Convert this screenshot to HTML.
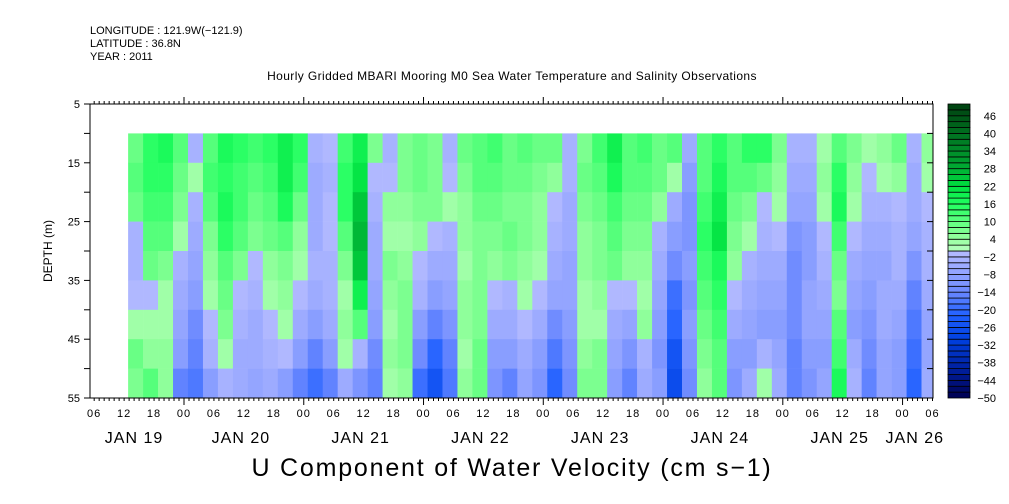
<!DOCTYPE html>
<html><head><meta charset="utf-8">
<style>
html,body{margin:0;padding:0;background:#fff;}
svg{display:block;font-family:"Liberation Sans",sans-serif;}
</style></head>
<body>
<svg id="chart" width="1009" height="504" viewBox="0 0 1009 504" xmlns="http://www.w3.org/2000/svg">
<text x="90" y="34" font-size="11">LONGITUDE : 121.9W(−121.9)</text>
<text x="90" y="47" font-size="11">LATITUDE : 36.8N</text>
<text x="90" y="60" font-size="11">YEAR : 2011</text>
<text x="512" y="80" font-size="12" text-anchor="middle" letter-spacing="0.4">Hourly Gridded MBARI Mooring M0 Sea Water Temperature and Salinity Observations</text>
<text x="512" y="476" font-size="25" text-anchor="middle" letter-spacing="1.8">U Component of Water Velocity (cm s−1)</text>
<text x="52" y="251" font-size="12" text-anchor="middle" transform="rotate(-90 52 251)">DEPTH (m)</text>
<g id="cells"></g>
<g id="axes"></g>
<g id="cbar"></g>
</svg>
<script>
// depth bands (top depth of each 5 m band)
const depthBands = [10,15,20,25,30,35,40,45,50];
// column start times, hours after Jan 19 00:00 (3-hour columns)
const startHour = 12.8;
const colHours = 3;
// U velocity (cm/s), one array per 3-h column, top to bottom
const velocity = [
[8,10,8,-4,-4,-2,2,8,6],[14,14,12,10,8,-2,2,4,10],[16,14,12,10,6,2,2,4,4],[10,8,6,2,-4,-6,-8,-10,-16],
[-4,2,-4,-6,-8,-10,-14,-16,-18],[10,12,10,6,4,2,-2,-4,-10],[16,14,16,14,10,8,6,2,-4],[14,12,12,10,6,-2,-4,-6,-6],
[12,10,8,6,-2,-4,-6,-6,-8],[14,12,10,8,4,2,-2,-4,-6],[18,18,16,10,6,4,2,-2,-10],[14,12,8,4,2,-2,-6,-10,-16],
[-4,-6,-6,-6,-4,-6,-10,-16,-20],[-2,-4,-2,-2,-4,-4,-6,-10,-16],[12,14,14,10,6,2,4,2,-6],[18,20,24,26,24,18,10,-4,-12],
[6,-2,-4,-6,-6,-8,-10,-14,-16],[-4,-2,4,2,6,4,2,4,2],[6,6,4,2,4,6,6,6,4],[8,8,6,4,-2,-4,-10,-14,-20],
[6,6,6,-2,-6,-10,-16,-22,-26],[-4,-2,2,-4,-6,-8,-12,-16,-18],[8,6,4,4,2,4,4,2,4],[10,10,8,6,6,6,6,8,8],
[12,10,8,6,4,-2,-6,-10,-12],[8,8,6,8,6,-4,-6,-10,-16],[10,8,6,6,4,2,-2,-6,-8],[8,6,4,4,2,-2,-6,-10,-12],
[8,4,-2,-4,-6,-8,-14,-18,-22],[-4,-4,-6,-6,-8,-8,-10,-12,-14],[6,8,6,4,4,2,2,4,6],[12,10,8,6,6,4,2,6,6],
[18,16,12,10,8,-2,-6,-8,-10],[10,10,8,6,4,-2,-8,-12,-16],[12,10,8,6,4,2,4,-4,-6],[8,8,4,-4,-6,-8,-10,-12,-10],
[10,2,-6,-10,-14,-20,-22,-26,-28],[-6,-10,-12,-12,-10,-12,-10,-12,-14],[10,10,12,14,12,10,8,6,4],[14,16,18,20,16,14,12,10,10],
[10,10,8,6,4,-2,-6,-10,-12],[14,10,6,2,-4,-6,-8,-10,-6],[14,8,-2,-4,-6,-8,-10,-4,2],[6,4,2,-2,-6,-8,-10,-8,-6],
[-4,-6,-8,-12,-14,-14,-14,-16,-16],[-4,-6,-8,-10,-10,-8,-8,-10,-12],[2,4,2,-2,-4,-6,-8,-10,-8],[10,14,16,12,8,6,10,12,16],
[6,4,2,-2,-6,-8,-10,-6,-4],[2,-2,-4,-6,-8,-10,-12,-14,-16],[4,2,-4,-6,-8,-6,-6,-8,-8],[8,4,-2,-4,-4,-6,-8,-10,-10],
[-4,-6,-6,-8,-12,-16,-18,-20,-22],[4,2,-2,-4,-4,-6,-8,-8,-6]
];
const timeLabels = ["06","12","18","00"];
const dayLabels = ["JAN 19","JAN 20","JAN 21","JAN 22","JAN 23","JAN 24","JAN 25","JAN 26"];
const depthTicks = [5,15,25,35,45,55];
const cbarLabels = [46,40,34,28,22,16,10,4,-2,-8,-14,-20,-26,-32,-38,-44,-50];

const NS="http://www.w3.org/2000/svg";
const PX=90, PR=933, PT=104, PB=398;
const x0=184-24*4.99, pxh=4.99; // x of Jan 19 00:00
const X=h=>x0+h*pxh;
const Y=d=>PT+(d-5)*(PB-PT)/50;
function mk(tag,attrs,parent){const e=document.createElementNS(NS,tag);for(const k in attrs)e.setAttribute(k,attrs[k]);parent.appendChild(e);return e;}
const stops=[[-50,[0,0,80]],[-40,[0,32,160]],[-30,[0,64,224]],[-22,[32,96,255]],[-14,[106,136,255]],[-8,[143,162,255]],[-1,[176,184,255]],[0,[184,255,192]],[4,[152,255,160]],[10,[96,255,128]],[16,[32,255,96]],[22,[0,224,64]],[30,[0,160,48]],[40,[0,112,32]],[50,[0,64,16]]];
function color(v){
  const lv=Math.max(-49,Math.min(49,Math.floor(v/2)*2+1));
  for(let i=0;i<stops.length-1;i++){const a=stops[i],b=stops[i+1];
    if(lv>=a[0]&&lv<=b[0]){const t=(lv-a[0])/(b[0]-a[0]);return "rgb("+a[1].map((c,j)=>Math.round(c+(b[1][j]-c)*t)).join(",")+")";}}
  return "#000";
}
const cells=document.getElementById('cells');
velocity.forEach((col,i)=>{
  const h=startHour+i*colHours;
  const xa=X(h), xb=Math.min(PR,X(h+colHours));
  col.forEach((v,j)=>{
    const r=mk('rect',{x:xa,y:Y(depthBands[j]),width:xb-xa+0.3,height:Y(depthBands[j]+5)-Y(depthBands[j])+0.3,fill:color(v)},cells);
    
    
  });
});
const ax=document.getElementById('axes');
mk('rect',{x:PX,y:PT,width:PR-PX,height:PB-PT,fill:'none',stroke:'#000','stroke-width':1},ax);
for(let h=6;X(h)<=PR+0.5;h++){
  const x=X(h), major=h%24===0;
  mk('line',{x1:x,x2:x,y1:PT,y2:PT-(major?7:3),stroke:'#000'},ax);
  mk('line',{x1:x,x2:x,y1:PB,y2:PB+(major?7:3),stroke:'#000'},ax);
  if(h%6===0){
    const t=mk('text',{x:x,y:PB+19,'font-size':11,'text-anchor':'middle','letter-spacing':1},ax);
    t.textContent=timeLabels[(h/6-1)%4];
    
    
  }
}
dayLabels.forEach((d,i)=>{
  const a=Math.max(PX,X(i*24)), b=Math.min(PR,X(i*24+24));
  const t=mk('text',{x:(a+b)/2-3,y:PB+45,'font-size':16,'text-anchor':'middle','letter-spacing':1},ax);
  t.textContent=d;
  
  
});
for(let d=5;d<=55;d+=5){
  mk('line',{x1:PX,x2:PX-6,y1:Y(d),y2:Y(d),stroke:'#000'},ax);
  mk('line',{x1:PR,x2:PR-6,y1:Y(d),y2:Y(d),stroke:'#000'},ax);
}
depthTicks.forEach(d=>{
  const t=mk('text',{x:PX-10,y:Y(d)+4,'font-size':11,'text-anchor':'end'},ax);
  t.textContent=d;
  
  
});
const cb=document.getElementById('cbar');
const CX=948, CW=22, CY=v=>PT+(50-v)*(PB-PT)/100;
for(let v=-50;v<50;v+=2){
  const r=mk('rect',{x:CX,y:CY(v+2),width:CW,height:CY(v)-CY(v+2),fill:color(v+1),stroke:'#000','stroke-width':0.8},cb);
  
  
}
cbarLabels.forEach(v=>{
  const t=mk('text',{x:996,y:CY(v)+4,'font-size':11,'text-anchor':'end'},cb);
  t.textContent=v<0?'−'+(-v):String(v);
  
  
});
</script>
</body></html>
